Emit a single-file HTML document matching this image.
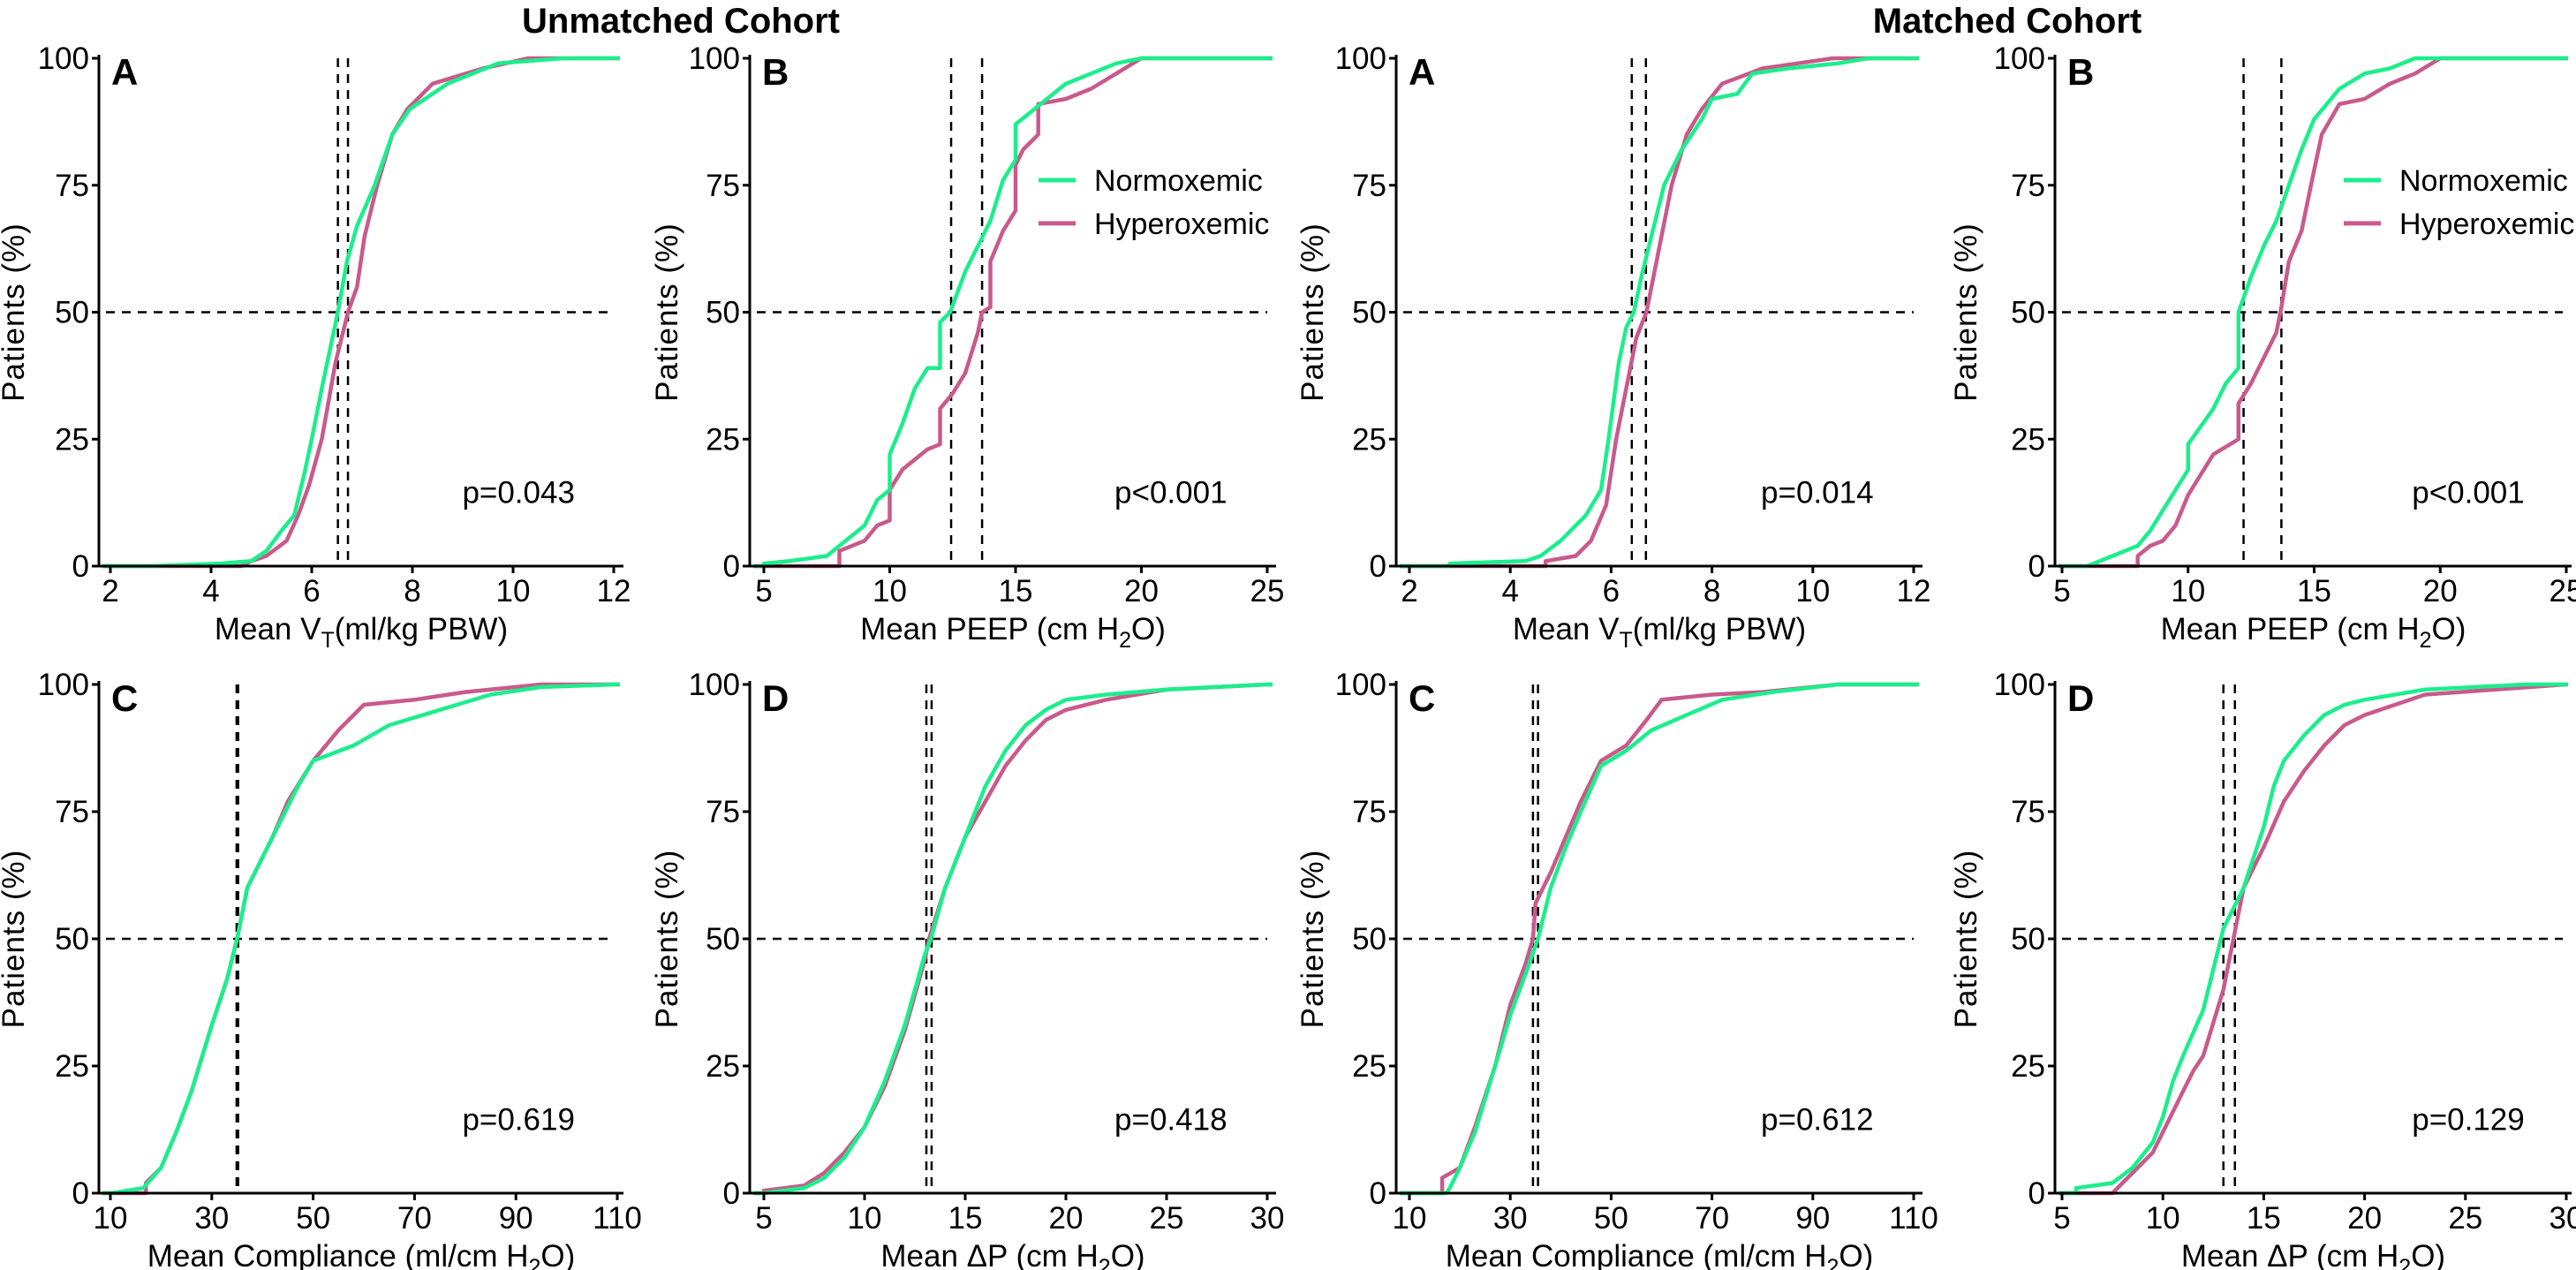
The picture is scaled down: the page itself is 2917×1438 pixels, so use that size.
<!DOCTYPE html>
<html><head><meta charset="utf-8"><style>
html,body{margin:0;padding:0;background:#fff;}
svg{display:block;font-family:"Liberation Sans",Arial,sans-serif;}
</style></head><body>
<svg id="fig" width="2917" height="1438" viewBox="0 0 2917 1438" xmlns="http://www.w3.org/2000/svg">
<text x="771" y="37" font-size="40" font-weight="bold" text-anchor="middle">Unmatched Cohort</text>
<text x="2273" y="37" font-size="40" font-weight="bold" text-anchor="middle">Matched Cohort</text>
</svg>
<script>
// ---- data (x value, cumulative %) ----
const uA_norm_x=[2.8,4.2,4.8,5.1,5.4,5.65,5.85,6.0,6.2,6.35,6.52,6.7,6.9,7.25,7.6,7.95,8.7,9.7,11.0];
const uA_norm_y=[0,0.5,1,3,7,10,18,25,35,42,50,60,67,75,85,90,95,99,100];
const uA_hyp_x=[4.6,4.8,5.1,5.5,5.73,5.95,6.2,6.47,6.72,6.9,7.05,7.3,7.6,7.9,8.4,9.4,10.3];
const uA_hyp_y=[0,1,2,5,10,16,25,40,50,55,65,75,85,90,95,98,100];
const uB_norm_x=[5,6,7.5,8,9,9.5,10,10,10.5,11,11.5,12,12,12.4,13,13.5,14,14.5,15,15,16,17,18,19,20];
const uB_norm_y=[0.5,1,2,4,8,13,15,22,28,35,39,39,48,50,58,63,68,76,80,87,91,95,97,99,100];
const uB_hyp_x=[8,8,9,9.5,10,10,10.5,11,11.5,12,12,12.5,13,13.5,13.67,14,14,14.5,15,15,15.3,15.9,15.9,17,18,19,20];
const uB_hyp_y=[0,3,5,8,9,15,19,21,23,24,31,34,38,46,50,51,60,66,70,79,82,85,91,92,94,97,100];
const mA_norm_x=[2.8,4.3,4.6,5.0,5.5,5.8,5.95,6.15,6.3,6.45,6.6,6.8,7.05,7.4,7.8,8.0,8.5,8.8,9.5,10.5,11.1];
const mA_norm_y=[0.5,1,2,5,10,15,25,40,47,50,57,65,75,82,88,92,93,97,98,99,100];
const mA_hyp_x=[4.7,4.7,5.3,5.6,5.9,6.1,6.3,6.5,6.7,6.8,7.0,7.2,7.5,7.8,8.2,9.0,10.4];
const mA_hyp_y=[0,1,2,5,12,25,35,45,50,55,65,75,85,90,95,98,100];
const mB_norm_x=[6,7,8,8.5,9,9.5,10,10,11,11.5,12,12,12.5,13,13.5,14,14.5,15,15.5,16,17,18,19];
const mB_norm_y=[0,2,4,7,11,15,19,24,31,36,39,50,57,63,68,75,82,88,91,94,97,98,100];
const mB_hyp_x=[8,8,8.5,9,9.5,10,10.5,11,12,12,12.5,13,13.5,13.7,14,14.5,15,15.3,16,17,18,19,20];
const mB_hyp_y=[0,2,4,5,8,14,18,22,25,32,36,41,46,51,60,66,78,85,91,92,95,97,100];
const uC_norm_x=[10.3,16.5,20,23,26,30,33,35,37,42,47,50,58,65,75,85,95,110];
const uC_norm_y=[0,1,5,12,20,33,42,50,60,70,80,85,88,92,95,98,99.5,100];
const uC_hyp_x=[17,17,20,23,26,30,33,35,37,42,45,50,55,60,70,80,90,95];
const uC_hyp_y=[0,2,5,12,20,33,42,50,60,70,77,85,91,96,97,98.5,99.5,100];
const uD_norm_x=[5,7,8,9,10,11,12,13,13.3,14,15,16,17,18,19,20,22,25,30];
const uD_norm_y=[0,1,3,7,13,22,33,47,50,60,70,80,87,92,95,97,98,99,100];
const uD_hyp_x=[5,7,8,9,10,11,12,13,13.2,14,15,16,17,18,19,20,22,25,30];
const uD_hyp_y=[0.5,1.5,4,8,13,21,32,46,50,60,70,77,84,89,93,95,97,99,100];
const mC_norm_x=[17.3,18,20,23,27,30,33,35.5,38,41,44,48,53,58,65,72,82,95];
const mC_norm_y=[0,1,5,12,25,35,43,50,60,68,75,84,87,91,94,97,98.5,100];
const mC_hyp_x=[16.5,16.5,20,23,27,30,33,34.5,35,38,41,44,48,53,57,60,70,80,95];
const mC_hyp_y=[0,3,5,13,25,37,45,50,57,63,70,77,85,88,93,97,98,98.5,100];
const mD_norm_x=[5.7,7.5,8.5,9.5,10,10.5,11,12,12.5,13,14,15,15.5,16,17,18,19,20,23,28];
const mD_norm_y=[1,2,5,10,15,22,27,36,44,52,60,72,80,85,90,94,96,97,99,100];
const mD_hyp_x=[7.5,8.5,9.5,10,11,11.5,12,13,13.5,14,15,16,17,18,19,20,23,30];
const mD_hyp_y=[0,4,8,12,20,24,27,40,50,60,68,77,83,88,92,94,98,100];
const yTicks=[0,25,50,75,100];
const vtTicks=[2,4,6,8,10,12];
const peepTicks=[5,10,15,20,25];
const compTicks=[10,30,50,70,90,110];
const dpTicks=[5,10,15,20,25,30];
const medians_uA=[6.52,6.72], medians_uB=[12.44,13.67], medians_mA=[6.41,6.69], medians_mB=[12.2,13.7];
const medians_uC=[34.9,35.2], medians_uD=[13.07,13.33], medians_mC=[34.5,35.5], medians_mD=[13.0,13.57];
const pvals=["p=0.043","p<0.001","p=0.014","p<0.001","p=0.619","p=0.418","p=0.612","p=0.129"];

const NS="http://www.w3.org/2000/svg";
const svg=document.getElementById('fig');
const GREEN="#1cee8c", MAG="#c95a8c";
function mk(tag,attrs,parent){const e=document.createElementNS(NS,tag);for(const k in attrs)e.setAttribute(k,attrs[k]);(parent||svg).appendChild(e);return e;}

const panels=[
 {id:'unmatched-a',letter:'A',ax:112,p0:125,p1:695,v0:2,v1:12,right:706,top:66,bot:641,ticks:vtTicks,med:medians_uA,n:[uA_norm_x,uA_norm_y],h:[uA_hyp_x,uA_hyp_y],title:'vt',p:pvals[0],yt:15,legend:false},
 {id:'unmatched-b',letter:'B',ax:849,p0:865,p1:1435,v0:5,v1:25,right:1445,top:66,bot:641,ticks:peepTicks,med:medians_uB,n:[uB_norm_x,uB_norm_y],h:[uB_hyp_x,uB_hyp_y],title:'peep',p:pvals[1],yt:755,legend:true},
 {id:'matched-a',letter:'A',ax:1581,p0:1596,p1:2167,v0:2,v1:12,right:2177,top:66,bot:641,ticks:vtTicks,med:medians_mA,n:[mA_norm_x,mA_norm_y],h:[mA_hyp_x,mA_hyp_y],title:'vt',p:pvals[2],yt:1486,legend:false},
 {id:'matched-b',letter:'B',ax:2327,p0:2335,p1:2906,v0:5,v1:25,right:2912,top:66,bot:641,ticks:peepTicks,med:medians_mB,n:[mB_norm_x,mB_norm_y],h:[mB_hyp_x,mB_hyp_y],title:'peep',p:pvals[3],yt:2226,legend:true},
 {id:'unmatched-c',letter:'C',ax:112,p0:125,p1:699,v0:10,v1:110,right:706,top:775,bot:1351,ticks:compTicks,med:medians_uC,n:[uC_norm_x,uC_norm_y],h:[uC_hyp_x,uC_hyp_y],title:'comp',p:pvals[4],yt:15,legend:false},
 {id:'unmatched-d',letter:'D',ax:849,p0:865,p1:1435,v0:5,v1:30,right:1445,top:775,bot:1351,ticks:dpTicks,med:medians_uD,n:[uD_norm_x,uD_norm_y],h:[uD_hyp_x,uD_hyp_y],title:'dp',p:pvals[5],yt:755,legend:false},
 {id:'matched-c',letter:'C',ax:1581,p0:1596,p1:2167,v0:10,v1:110,right:2177,top:775,bot:1351,ticks:compTicks,med:medians_mC,n:[mC_norm_x,mC_norm_y],h:[mC_hyp_x,mC_hyp_y],title:'comp',p:pvals[6],yt:1486,legend:false},
 {id:'matched-d',letter:'D',ax:2327,p0:2335,p1:2906,v0:5,v1:30,right:2912,top:775,bot:1351,ticks:dpTicks,med:medians_mD,n:[mD_norm_x,mD_norm_y],h:[mD_hyp_x,mD_hyp_y],title:'dp',p:pvals[7],yt:2226,legend:false}
];

panels.forEach(P=>{
 const g=mk('g',{});
 
 
 const X=v=>P.p0+(v-P.v0)*(P.p1-P.p0)/(P.v1-P.v0);
 const Y=p=>P.bot-p*(P.bot-P.top)/100;
 const hl=mk('line',{x1:P.ax+8,x2:P.right-10,y1:Y(50),y2:Y(50),stroke:'#000','stroke-width':2.5,'stroke-dasharray':'10 8'},g);
 
 
 P.med.forEach(m=>{
  const vl=mk('line',{x1:X(m),x2:X(m),y1:Y(100),y2:Y(0),stroke:'#000','stroke-width':2.5,'stroke-dasharray':'10 8'},g);
  
  
 });
 [[P.h,MAG,'hyperoxemic-curve'],[P.n,GREEN,'normoxemic-curve']].forEach(([s,c,name])=>{
  const xs=s[0], ys=s[1];
  let pts=[[P.ax+4,Y(0)],[X(xs[0]),Y(0)]];
  for(let i=0;i<xs.length;i++)pts.push([X(xs[i]),Y(ys[i])]);
  pts.push([P.right-4,Y(100)]);
  const pl=mk('polyline',{points:pts.map(p=>p[0].toFixed(1)+','+p[1].toFixed(1)).join(' '),fill:'none',stroke:c,'stroke-width':4.5,'stroke-linejoin':'round'},g);
  
  
 });
 const ya=mk('line',{x1:P.ax,x2:P.ax,y1:P.top-4,y2:P.bot,stroke:'#000','stroke-width':3},g);
 
 
 const xa=mk('line',{x1:P.ax-1,x2:P.right,y1:P.bot,y2:P.bot,stroke:'#000','stroke-width':3},g);
 
 
 yTicks.forEach(t=>{
  mk('line',{x1:P.ax-8,x2:P.ax,y1:Y(t),y2:Y(t),stroke:'#000','stroke-width':3},g);
  const tl=mk('text',{x:P.ax-11,y:Y(t)+12,'font-size':35,'text-anchor':'end'},g);
  tl.textContent=t;
  
  
 });
 P.ticks.forEach(t=>{
  mk('line',{x1:X(t),x2:X(t),y1:P.bot,y2:P.bot+8,stroke:'#000','stroke-width':3},g);
  const tl=mk('text',{x:X(t),y:P.bot+40,'font-size':35,'text-anchor':'middle'},g);
  tl.textContent=t;
  
  
 });
 const cy=(P.top+P.bot)/2;
 const yt=mk('text',{x:P.yt,y:cy,'font-size':35,'text-anchor':'middle','letter-spacing':'1',transform:`rotate(-90 ${P.yt} ${cy}) translate(0 12)`},g);
 yt.textContent='Patients (%)';
 
 
 const cx=(P.ax+P.right)/2;
 const xt=mk('text',{x:cx,y:P.bot+83,'font-size':35,'text-anchor':'middle'},g);
 
 
 if(P.title==='vt'){xt.innerHTML='Mean V<tspan font-size="25" dy="9">T</tspan><tspan dy="-9">(ml/kg PBW)</tspan>';}
 else if(P.title==='peep'){xt.innerHTML='Mean PEEP (cm H<tspan font-size="25" dy="9">2</tspan><tspan dy="-9">O)</tspan>';}
 else if(P.title==='comp'){xt.innerHTML='Mean Compliance (ml/cm H<tspan font-size="25" dy="9">2</tspan><tspan dy="-9">O)</tspan>';}
 else {xt.innerHTML='Mean \u0394P (cm H<tspan font-size="25" dy="9">2</tspan><tspan dy="-9">O)</tspan>';}
 const lt=mk('text',{x:P.ax+14,y:P.top+30,'font-size':42,'font-weight':'bold'},g);
 lt.textContent=P.letter;
 
 
 const pv=mk('text',{x:P.ax+(P.right-P.ax)*0.8,y:Y(14.5)+12,'font-size':35,'text-anchor':'middle'},g);
 pv.textContent=P.p;
 
 
 if(P.legend){
  const lx=P.ax+327;
  [[GREEN,'Normoxemic',Y(76)],[MAG,'Hyperoxemic',Y(67.5)]].forEach(([c,lab,y])=>{
   const le=mk('g',{},g);
   
   
   mk('line',{x1:lx,x2:lx+42,y1:y,y2:y,stroke:c,'stroke-width':5},le);
   const tx=mk('text',{x:lx+63,y:y+12,'font-size':34},le);
   tx.textContent=lab;
  });
 }
});
</script>
</body></html>
